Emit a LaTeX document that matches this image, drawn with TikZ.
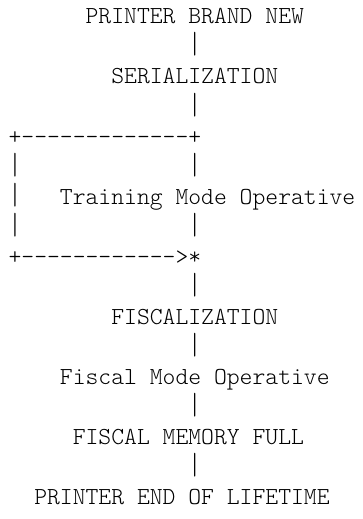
\documentclass[tikz,border=0pt]{standalone}
\usepackage{fontspec}
\setmonofont{Latin Modern Mono Light}
\newcommand{\asciifont}{\ttfamily\fontsize{24.46}{30}\selectfont}
\newcommand{\vbar}{\scalebox{1}[1.25]{|}}
\tikzset{
  asc/.style={anchor=base west, inner sep=0pt, outer sep=0pt, font=\asciifont},
}
\begin{document}
\begin{tikzpicture}[x=1pt, y=-1pt]

\useasboundingbox (0,0) rectangle (362,519);

% Top of the life cycle
\node[asc] (brandnew) at ({8.6+12.84*6}, 24) {PRINTER BRAND NEW};
\node[asc] (bar2) at ({8.6+12.84*14}, 54) {\vbar};
\node[asc] (serial) at ({8.6+12.84*8}, 84) {SERIALIZATION};
\node[asc] (bar4) at ({8.6+12.84*14}, 114) {\vbar};

% Training loop
\node[asc] (looptop) at (8.6, 144) {+-------------+};
\node[asc] (left6) at (8.6, 174) {\vbar};
\node[asc] (right6) at ({8.6+12.84*14}, 174) {\vbar};
\node[asc] (left7) at (8.6, 204) {\vbar};
\node[asc] (training) at ({8.6+12.84*4}, 204) {Training Mode Operative};
\node[asc] (left8) at (8.6, 234) {\vbar};
\node[asc] (right8) at ({8.6+12.84*14}, 234) {\vbar};
\node[asc] (loopend) at (8.6, 264) {+------------>*};

% Fiscal part
\node[asc] (bar10) at ({8.6+12.84*14}, 294) {\vbar};
\node[asc] (fiscalization) at ({8.6+12.84*8}, 324) {FISCALIZATION};
\node[asc] (bar12) at ({8.6+12.84*14}, 354) {\vbar};
\node[asc] (fiscalmode) at ({8.6+12.84*4}, 384) {Fiscal Mode Operative};
\node[asc] (bar14) at ({8.6+12.84*14}, 414) {\vbar};
\node[asc] (memfull) at ({8.6+12.84*5}, 444) {FISCAL MEMORY FULL};
\node[asc] (bar16) at ({8.6+12.84*14}, 474) {\vbar};
\node[asc] (lifetime) at ({8.6+12.84*2}, 504) {PRINTER END OF LIFETIME};

\end{tikzpicture}
\end{document}
